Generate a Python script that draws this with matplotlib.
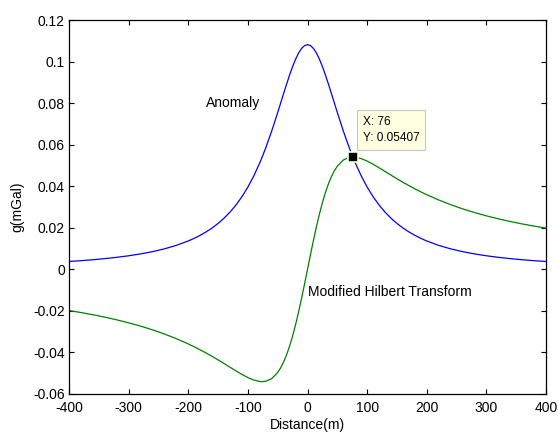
import matplotlib
matplotlib.use("Agg")
import matplotlib.pyplot as plt

plt.rcParams['font.family'] = ['Liberation Sans', 'DejaVu Sans']
plt.rcParams['axes.unicode_minus'] = False

# distance (m), right half; the curves are mirrored to the left
x_half = [0, 5, 10, 15, 20, 25, 30, 35, 40, 45, 50, 60, 70, 76, 80, 90, 100, 110, 120,
          130, 140, 150, 160, 170, 180, 190, 200, 220, 240, 260, 280, 300, 320, 340,
          360, 380, 400]
anomaly_half = [0.10814, 0.107674, 0.10630, 0.104085, 0.10114, 0.097581, 0.093562,
                0.089218, 0.084682, 0.080069, 0.075473, 0.066619, 0.058507, 0.05407,
                0.051299, 0.045014, 0.039593, 0.034942, 0.030958, 0.027545, 0.024615,
                0.022090, 0.019907, 0.018013, 0.016361, 0.014916, 0.013645, 0.011530,
                0.0098557, 0.0085126, 0.0074204, 0.0065216, 0.0057741, 0.0051462,
                0.0046139, 0.0041592, 0.0037678]
hilbert_half = [0.0, 0.0070838, 0.013987, 0.020543, 0.026616, 0.032099, 0.036932,
                0.041087, 0.044570, 0.047409, 0.049653, 0.052594, 0.053888, 0.05407,
                0.053999, 0.053306, 0.052096, 0.050574, 0.048881, 0.047116, 0.045343,
                0.043599, 0.041909, 0.040292, 0.038750, 0.037290, 0.035908, 0.033376,
                0.031123, 0.029122, 0.027339, 0.025743, 0.024312, 0.023022, 0.021855,
                0.020796, 0.019830]

x = [-v for v in x_half[:0:-1]] + x_half
anomaly = anomaly_half[:0:-1] + anomaly_half
hilbert = [-v for v in hilbert_half[:0:-1]] + hilbert_half

tip_x, tip_y = 76, 0.05407

fig = plt.figure(figsize=(5.58, 4.32), dpi=100)
ax = fig.add_axes([0.1237, 0.088, 0.8548, 0.8657])

ax.plot(x, anomaly, color=(0, 0, 1), lw=0.9)
ax.plot(x, hilbert, color=(0, 0.5, 0), lw=0.9)

ax.set_xlim(-400, 400)
ax.set_ylim(-0.06, 0.12)
ax.set_xticks(range(-400, 401, 100))
ax.set_yticks([-0.06, -0.04, -0.02, 0, 0.02, 0.04, 0.06, 0.08, 0.1, 0.12])
ax.set_yticklabels(['-0.06', '-0.04', '-0.02', '0', '0.02', '0.04', '0.06', '0.08', '0.1', '0.12'])
ax.tick_params(direction='in', top=True, right=True, length=3.8, width=0.8,
               labelsize=10, colors='black', pad=3)
ax.tick_params(axis='x', pad=5)
for s in ax.spines.values():
    s.set_linewidth(0.9)

ax.set_xlabel('Distance(m)', fontsize=10, labelpad=2)
ax.set_ylabel('g(mGal)', fontsize=10, labelpad=6)

ax.text(-170, 0.08, 'Anomaly', fontsize=10, va='center', ha='left')
ax.text(1, -0.011, 'Modified Hilbert Transform', fontsize=10, va='center', ha='left')

# data tip
ax.plot([tip_x], [tip_y], marker='s', ms=7.5, mfc='black', mec='#ffffcc', mew=1.2, zorder=5)
ax.annotate('X: %d\nY: %.5f' % (tip_x, tip_y), xy=(tip_x, tip_y), xytext=(7, 9),
            textcoords='offset points', fontsize=8.5, va='bottom', ha='left',
            linespacing=1.55,
            bbox=dict(boxstyle='square,pad=0.45', fc='#ffffe1', ec='#c8c8c8', lw=0.8),
            zorder=6)

fig.savefig('out.png', dpi=100)
